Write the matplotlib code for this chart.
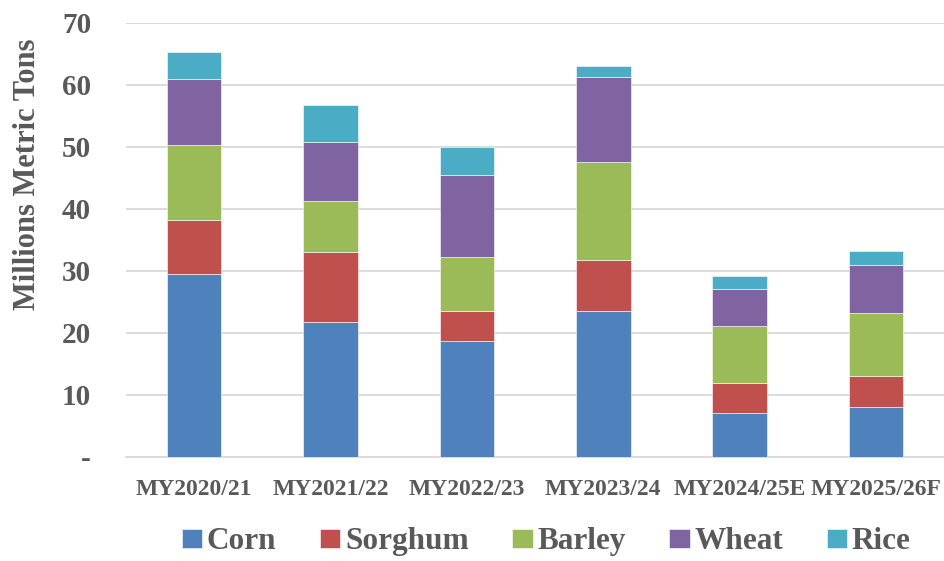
import matplotlib
matplotlib.use("Agg")
import matplotlib.pyplot as plt
import numpy as np

# marketing years
years = ["MY2020/21", "MY2021/22", "MY2022/23", "MY2023/24", "MY2024/25E", "MY2025/26F"]

# million metric tons
corn = [29.5, 21.8, 18.7, 23.5, 7.0, 8.0]
sorghum = [8.7, 11.2, 4.8, 8.3, 4.9, 5.0]
barley = [12.1, 8.2, 8.7, 15.8, 9.1, 10.1]
wheat = [10.6, 9.6, 13.2, 13.7, 6.0, 7.8]
rice = [4.3, 5.9, 4.5, 1.7, 2.1, 2.3]

series = [("Corn", corn, "#4F81BD"),
          ("Sorghum", sorghum, "#C0504D"),
          ("Barley", barley, "#9BBB59"),
          ("Wheat", wheat, "#8064A2"),
          ("Rice", rice, "#4BACC6")]

yticks = [0, 10, 20, 30, 40, 50, 60, 70]
ytick_labels = ["-", "10", "20", "30", "40", "50", "60", "70"]

plt.rcParams['font.family'] = ['Liberation Serif', 'DejaVu Serif']
plt.rcParams['font.weight'] = 'bold'
txt = "#595959"

fig = plt.figure(figsize=(9.45, 5.61), dpi=100)
ax = fig.add_axes([0.1333, 0.186, 0.866, 0.7735])

x = np.arange(len(years))
bottom = np.zeros(len(years))
for name, vals, col in series:
    ax.bar(x, vals, width=0.40, bottom=bottom, color=col, label=name,
           edgecolor="white", linewidth=0.4, zorder=3)
    bottom += np.array(vals)

ax.set_xlim(-0.5, 5.5)
ax.set_ylim(0, 70)
ax.set_yticks(yticks)
ax.set_yticklabels(ytick_labels)
ax.set_xticks(x)
ax.set_xticklabels(years)

# gridlines
ax.yaxis.grid(True, color="#d9d9d9", linewidth=1.3, zorder=0)
ax.set_axisbelow(True)
for s in ["top", "right", "left"]:
    ax.spines[s].set_visible(False)
ax.spines["bottom"].set_color("#d9d9d9")
ax.spines["bottom"].set_linewidth(1.3)

ax.tick_params(axis="y", length=0, pad=25, labelsize=21, labelcolor=txt)
ax.tick_params(axis="x", length=0, pad=16, labelsize=17, labelcolor=txt)

ax.set_ylabel("Millions Metric Tons", fontsize=22, color=txt, fontweight="bold")
ax.yaxis.set_label_coords(-0.103, 0.651)

leg = fig.legend(loc="center", bbox_to_anchor=(0.578, 0.034), ncol=5,
                 frameon=False, fontsize=22.5, handlelength=0.65, handleheight=0.55,
                 handletextpad=0.15, columnspacing=1.4,
                 labelcolor=txt)

fig.savefig("out.png", dpi=100)
